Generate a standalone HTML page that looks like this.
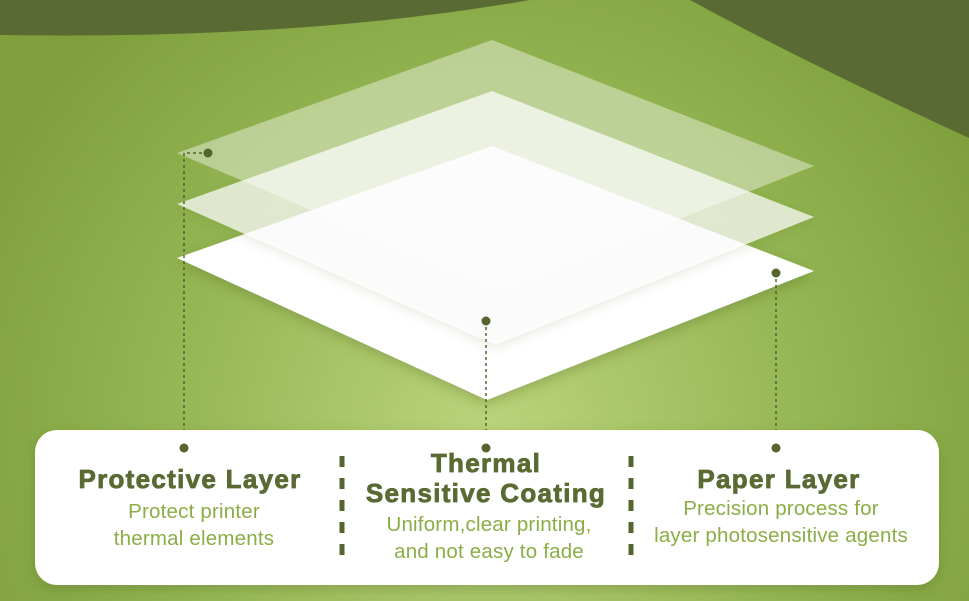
<!DOCTYPE html>
<html><head><meta charset="utf-8"><style>
body{margin:0;width:969px;height:601px;overflow:hidden}
svg{display:block}
text{font-family:"Liberation Sans",Arial,sans-serif}
</style></head><body>
<svg width="969" height="601" viewBox="0 0 969 601">
<defs>
<radialGradient id="bg" cx="490" cy="440" r="560" gradientUnits="userSpaceOnUse">
<stop offset="0" stop-color="#bcd47c"/><stop offset="0.6" stop-color="#93b552"/><stop offset="1" stop-color="#7fa03d"/>
</radialGradient>
<filter id="sh" x="-20%" y="-20%" width="140%" height="140%"><feDropShadow dx="0" dy="4" stdDeviation="6" flood-color="#4a5a20" flood-opacity="0.3"/></filter>
<filter id="sh2" x="-20%" y="-20%" width="140%" height="140%"><feDropShadow dx="0" dy="3" stdDeviation="5" flood-color="#4a5a20" flood-opacity="0.18"/></filter>
</defs>
<rect width="969" height="601" fill="url(#bg)"/>
<path d="M0 0 H530 Q300 40 0 35 Z" fill="#5a6a33"/>
<path d="M690 0 H969 V138 Q800 60 690 0 Z" fill="#5a6a33"/>
<polygon points="492,146 814,271 487,400 177,258" fill="#fff" filter="url(#sh)"/>
<polygon points="492,91 814,217 495,345 177,204" fill="#fff" fill-opacity="0.7" filter="url(#sh2)"/>
<polygon points="492,40 814,166 499,290 177,153" fill="#fff" fill-opacity="0.4"/>
<g stroke="#55652e" stroke-width="1.5" stroke-dasharray="3,3" fill="none">
<path d="M208 153 H184 V448"/>
<path d="M486 321 V448"/>
<path d="M776 273 V448"/>
</g>
<g fill="#55652e">
<circle cx="208" cy="153" r="4.5"/><circle cx="486" cy="321" r="4.5"/><circle cx="776" cy="273" r="4.5"/>
</g>
<rect x="35" y="430" width="904" height="155" rx="22" fill="#fff" filter="url(#sh)"/>
<g fill="#55652e"><circle cx="184" cy="448" r="4.5"/><circle cx="486" cy="448" r="4.5"/><circle cx="776" cy="448" r="4.5"/></g>
<g stroke="#55652e" stroke-width="5" stroke-dasharray="11,11">
<line x1="342" y1="456" x2="342" y2="564"/><line x1="631" y1="456" x2="631" y2="564"/>
</g>
<g font-weight="bold" font-size="26" fill="#5a6a33" stroke="#5a6a33" stroke-width="0.8" letter-spacing="1.3" text-anchor="middle">
<text x="190" y="488">Protective Layer</text>
<text x="486" y="472">Thermal</text>
<text x="486" y="502">Sensitive Coating</text>
<text x="779" y="488">Paper Layer</text>
</g>
<g font-size="20.5" fill="#8aae45" text-anchor="middle" letter-spacing="0.2">
<text x="194" y="518">Protect printer</text>
<text x="194" y="545">thermal elements</text>
<text x="489" y="531">Uniform,clear printing,</text>
<text x="489" y="558">and not easy to fade</text>
<text x="781" y="515">Precision process for</text>
<text x="781" y="542">layer photosensitive agents</text>
</g>
</svg>
</body></html>
